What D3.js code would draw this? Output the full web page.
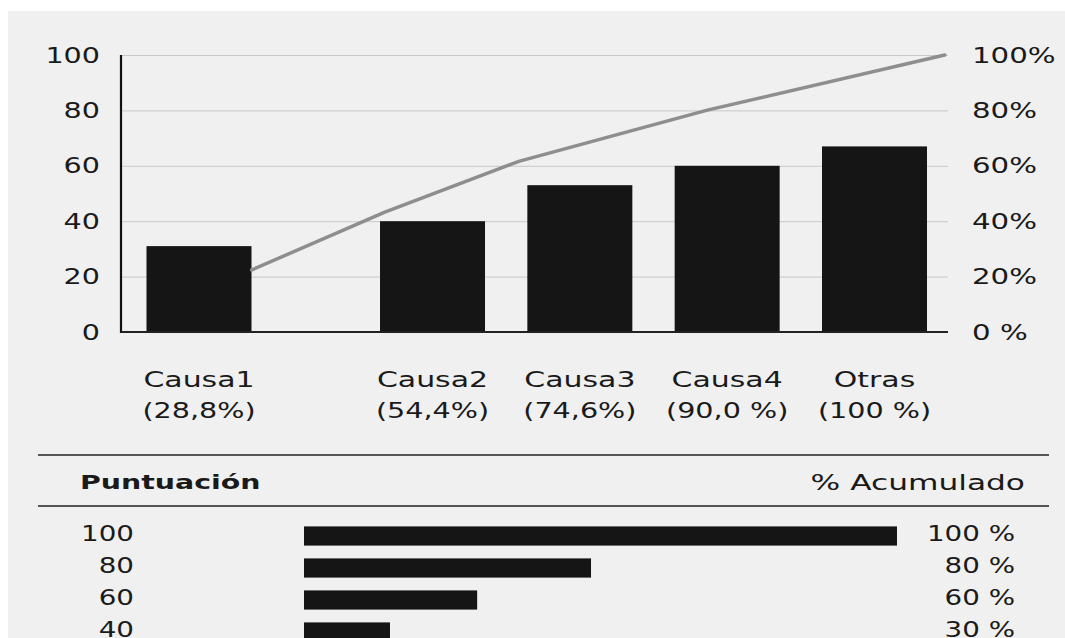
<!DOCTYPE html>
<html>
<head>
<meta charset="utf-8">
<script src="https://cdn.jsdelivr.net/npm/d3@7"></script>
<style>
  html, body { margin: 0; padding: 0; background: #ffffff; }
  svg { display: block; }
  text { font-family: "DejaVu Sans", Verdana, sans-serif; fill: #1a1a1a; }
</style>
</head>
<body>
<svg id="chart" width="1065" height="638"></svg>
<script>
// ---------------- DATA ----------------
const categories = ["Causa1", "Causa2", "Causa3", "Causa4", "Otras"];
const categoryPctLabels = ["(28,8%)", "(54,4%)", "(74,6%)", "(90,0 %)", "(100 %)"];
const counts = [31, 40, 53, 60, 67];
// cumulative line as drawn: x position in % of plot width, y in % (right axis)
const cumLineX = [15.8, 31.9, 48.2, 70.9, 99.6];
const cumLinePct = [22.4, 43.3, 61.7, 80.1, 100];
const leftTicks = [0, 20, 40, 60, 80, 100];
const rightTickLabels = ["0 %", "20%", "40%", "60%", "80%", "100%"];

const bottomScores = ["100", "80", "60", "40"];
const bottomBarValues = [100, 48.4, 29.2, 14.5];
const bottomPctLabels = ["100 %", "80 %", "60 %", "30 %"];
const bottomHeaderLeft = "Puntuación";
const bottomHeaderRight = "% Acumulado";

// ---------------- LAYOUT ----------------
const W = 1065, H = 638;
const plot = { left: 121, right: 948, top: 55, bottom: 332 };
const svg = d3.select("#chart");

function stretch(sel, k) {
  sel.each(function () {
    const w = this.getComputedTextLength();
    this.setAttribute("textLength", (w * k).toFixed(1));
    this.setAttribute("lengthAdjust", "spacingAndGlyphs");
  });
}

// background panel
svg.append("rect").attr("x", 8).attr("y", 11).attr("width", W - 8).attr("height", H - 11).attr("fill", "#f0f0f0");

// scales
const y = d3.scaleLinear().domain([0, 100]).range([plot.bottom, plot.top]);
const yR = d3.scaleLinear().domain([0, 100]).range([plot.bottom, plot.top]);
const firstGap = 0.585; // extra space after first category (in steps)
const slot = i => (i === 0 ? 0 : i + firstGap);
const xs = d3.scaleLinear().domain([0, slot(categories.length - 1)]).range([199, 874.5]);
const barW = 105;
const xl = d3.scaleLinear().domain([0, 100]).range([plot.left, plot.right]);

// gridlines
const grid = svg.append("g").attr("transform", `translate(${plot.left},0)`)
  .call(d3.axisLeft(y).tickValues(leftTicks.filter(d => d > 0)).tickSize(-(plot.right - plot.left)).tickFormat(""));
grid.select(".domain").remove();
grid.selectAll(".tick line").attr("stroke", "#c8c8c8").attr("stroke-width", 1);

// bars
svg.append("g").selectAll("rect").data(counts).join("rect")
  .attr("x", (d, i) => xs(slot(i)) - barW / 2)
  .attr("y", d => y(d))
  .attr("width", barW)
  .attr("height", d => y(0) - y(d))
  .attr("fill", "#151515");

// cumulative line
const lineData = cumLineX.map((xv, i) => [xv, cumLinePct[i]]);
svg.append("path").datum(lineData)
  .attr("d", d3.line().x(d => xl(d[0])).y(d => yR(d[1])))
  .attr("fill", "none").attr("stroke", "#8e8e8e").attr("stroke-width", 3.5)
  .attr("stroke-linecap", "round").attr("stroke-linejoin", "round");

// axis lines
svg.append("line").attr("x1", plot.left).attr("x2", plot.left).attr("y1", plot.top).attr("y2", plot.bottom + 1)
  .attr("stroke", "#111").attr("stroke-width", 2.2);
svg.append("line").attr("x1", plot.left).attr("x2", plot.right).attr("y1", plot.bottom).attr("y2", plot.bottom)
  .attr("stroke", "#222").attr("stroke-width", 2);

// left axis labels
const la = svg.append("g").attr("transform", `translate(${plot.left},0)`)
  .call(d3.axisLeft(y).tickValues(leftTicks).tickSize(0).tickPadding(21));
la.select(".domain").remove();
la.selectAll("text").attr("font-size", 22).attr("fill", "#1a1a1a").attr("font-family", "DejaVu Sans");
stretch(la.selectAll("text"), 1.3);

// right axis labels
const ra = svg.append("g").attr("transform", `translate(${plot.right},0)`)
  .call(d3.axisRight(yR).tickValues(leftTicks).tickSize(0).tickPadding(24).tickFormat((d, i) => rightTickLabels[i]));
ra.select(".domain").remove();
ra.selectAll("text").attr("font-size", 22).attr("fill", "#1a1a1a").attr("font-family", "DejaVu Sans");
stretch(ra.selectAll("text"), 1.33);

// category labels
const catG = svg.append("g");
const l1 = catG.selectAll("text.c1").data(categories).join("text").attr("class", "c1")
  .attr("x", (d, i) => xs(slot(i))).attr("y", 379)
  .attr("text-anchor", "middle").attr("dominant-baseline", "central")
  .attr("font-size", 22).text(d => d);
stretch(l1, 1.36);
const l2 = catG.selectAll("text.c2").data(categoryPctLabels).join("text").attr("class", "c2")
  .attr("x", (d, i) => xs(slot(i))).attr("y", 410)
  .attr("text-anchor", "middle").attr("dominant-baseline", "central")
  .attr("font-size", 22).text(d => d);
stretch(l2, 1.3);

// ---------------- BOTTOM TABLE ----------------
svg.append("line").attr("x1", 38).attr("x2", 1049).attr("y1", 455).attr("y2", 455).attr("stroke", "#555").attr("stroke-width", 2);
svg.append("line").attr("x1", 38).attr("x2", 1049).attr("y1", 506).attr("y2", 506).attr("stroke", "#555").attr("stroke-width", 2);

const h1 = svg.append("text").attr("x", 80).attr("y", 482).attr("dominant-baseline", "central")
  .attr("font-size", 20).attr("font-weight", "bold").attr("fill", "#111").text(bottomHeaderLeft);
stretch(h1, 1.42);
const h2 = svg.append("text").attr("x", 1025).attr("y", 482).attr("dominant-baseline", "central")
  .attr("text-anchor", "end").attr("font-size", 22).text(bottomHeaderRight);
stretch(h2, 1.42);

const yb = d3.scaleBand().domain(d3.range(bottomScores.length)).range([520, 648]).paddingInner(0.4).paddingOuter(0.2);
const xb = d3.scaleLinear().domain([0, 100]).range([304, 897]);

svg.append("g").selectAll("rect").data(bottomBarValues).join("rect")
  .attr("x", xb(0)).attr("y", (d, i) => yb(i))
  .attr("width", d => xb(d) - xb(0)).attr("height", yb.bandwidth())
  .attr("fill", "#151515");

const bl = svg.append("g").selectAll("text").data(bottomScores).join("text")
  .attr("x", 134).attr("y", (d, i) => yb(i) + yb.bandwidth() / 2 - 2)
  .attr("text-anchor", "end").attr("dominant-baseline", "central")
  .attr("font-size", 21).text(d => d);
stretch(bl, 1.32);
const br = svg.append("g").selectAll("text").data(bottomPctLabels).join("text")
  .attr("x", 1015).attr("y", (d, i) => yb(i) + yb.bandwidth() / 2 - 2)
  .attr("text-anchor", "end").attr("dominant-baseline", "central")
  .attr("font-size", 21).text(d => d);
stretch(br, 1.32);
</script>
</body>
</html>
